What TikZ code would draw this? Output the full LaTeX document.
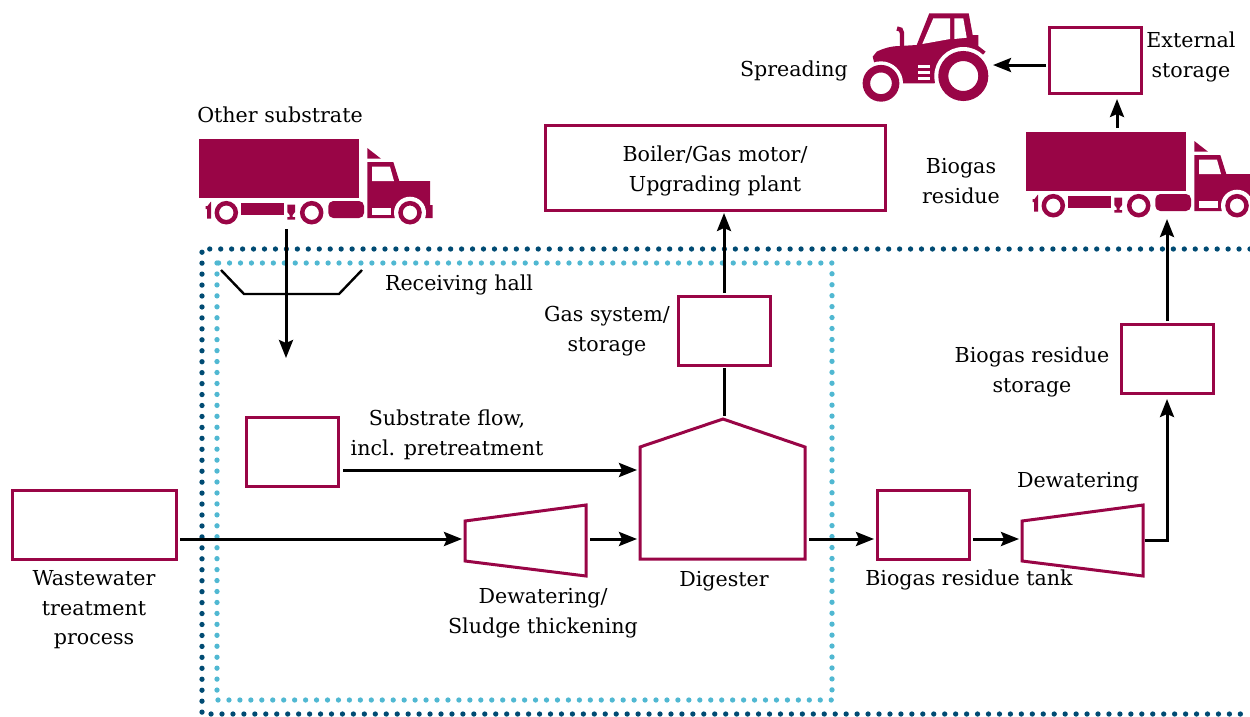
\documentclass[tikz,border=0pt]{standalone}
\usepackage{fontspec}
\setmainfont{DejaVu Serif}
\usetikzlibrary{arrows.meta,positioning}
\definecolor{plum}{HTML}{990546}
\definecolor{darkdots}{HTML}{004B73}
\definecolor{lightdots}{HTML}{50B8D2}

\tikzset{
	unit/.style = {draw=plum, line width=3pt, fill=white, inner sep=0pt, outer sep=0pt, anchor=north west},
	lbl/.style = {inner sep=0pt, align=center, font=\fontsize{20.6}{29.5}\selectfont},
	flow/.style = {line width=3pt, shorten >=3pt, -{Stealth[length=18pt,width=14pt,inset=3pt]}},
	pipe/.style = {line width=3pt},
	press/.style = {draw=plum, line width=3pt, fill=white},
	truck/.pic = {
		\fill[plum] (199,139) rectangle (359,198);
		\fill[plum] (367.3,148) -- (381,158.7) -- (367.3,158.7) -- cycle;
		\fill[plum] (367.3,162) -- (393.3,162) -- (399.3,181) -- (430,181) -- (430,205) -- (432.7,205)
			-- (432.7,218) -- (367.3,218) -- cycle;
		\fill[white] (372,166.7) -- (390,166.7) -- (394,181) -- (372,181) -- cycle;
		\fill[white] (372,207.7) rectangle (391,215);
		\fill[white] (410,212.7) circle (16) ;
		\fill[white] (396,218) rectangle (425,226);
		\draw[plum, line width=4.5pt] (410,212.7) circle (9.5);
		\draw[plum, line width=4.5pt] (311.7,212.7) circle (9.5);
		\draw[plum, line width=4.5pt] (226.3,212.7) circle (9.5);
		\fill[plum, rounded corners=5pt] (328.3,201) rectangle (364,218);
		\fill[plum] (241,203) rectangle (284,215);
		\fill[plum] (287.3,204.7) -- (295,204.7) -- (295,212) -- (292.7,215) -- (292.7,217) -- (295,217)
			-- (295,219.5) -- (287.3,219.5) -- (287.3,217) -- (289.7,217) -- (289.7,215) -- (287.3,212) -- cycle;
		\fill[plum] (205.7,206) -- (207.5,206) -- (211,201.5) -- (211,218.5) -- (207,218.5) -- (207,209) -- (205.7,209) -- cycle;
	},
}

\begin{document}
\begin{tikzpicture}[x=1pt, y=-1pt]
	\useasboundingbox (0,0) rectangle (1250,716);

	% dotted borders
	\draw[darkdots, line width=5.3pt, line cap=round, dash pattern=on 0pt off 10.95pt]
		(1250,249) -- (202,249) -- (202,714) -- (1250,714);
	\draw[lightdots, line width=5.3pt, line cap=round, dash pattern=on 0pt off 10.95pt]
		(217,263) rectangle (832,700);

	% trucks
	\pic (truckA) at (0,0) {truck};
	\begin{scope}
		\clip (0,0) rectangle (1250,716);
		\pic (truckB) at (827,-7) {truck};
	\end{scope}

	% tractor
	\fill[plum] (872.7,56.7) -- (876.7,51.7) .. controls (884,48) and (892,46) .. (900,46)
		-- (916.7,45) -- (929.3,13.3) -- (968.7,13.3) -- (972.7,35) -- (978.3,35) -- (978.3,46)
		-- (985.7,51.7) -- (983.3,54.3) -- (963,76) -- (934,83.3) -- (903.3,83.3) -- (881,83)
		-- (874,62) -- cycle;
	\draw[plum, line width=4.4pt] (902,46) -- (902,33) .. controls (902,30) and (900,28.5) .. (897,28.5);
	\fill[white] (922.3,44) -- (933.3,18.3) -- (950,18.3) -- (950,39) -- cycle;
	\fill[white] (954.3,18.3) -- (963.3,18.3) -- (966.7,37.7) -- (954.3,39) -- cycle;
	\fill[white] (963.3,76) circle (29);
	\fill[white] (881,83.3) circle (22);
	\fill[white] (918.3,65) rectangle (930,68);
	\fill[white] (918.3,71) rectangle (930,74);
	\fill[white] (918.3,77) rectangle (930,80);
	\draw[plum, line width=10pt] (963.3,76) circle (20);
	\draw[plum, line width=7.5pt] (881,83.3) circle (14.6);

	% units
	\node[unit, minimum width=164pt, minimum height=69pt] (wwtp) at (12,490) {};
	\node[unit, minimum width=92pt, minimum height=69pt] (premix) at (246,417) {};
	\node[unit, minimum width=340pt, minimum height=85pt] (boiler) at (545,125) {};
	\node[unit, minimum width=92pt, minimum height=69pt] (gas) at (678,296) {};
	\node[unit, minimum width=92pt, minimum height=69pt] (tank) at (877,490) {};
	\node[unit, minimum width=92pt, minimum height=69pt] (residue) at (1121,324) {};
	\node[unit, minimum width=92pt, minimum height=66pt] (external) at (1049,27) {};

	% dewatering units and digester
	\draw[press] (465,521) -- (586,505) -- (586,576) -- (465,561) -- cycle;
	\draw[press] (1022,521) -- (1143,505) -- (1143,576) -- (1022,561) -- cycle;
	\draw[press] (640,447) -- (723,419) -- (805,447) -- (805,559) -- (640,559) -- cycle;
	\coordinate (press1in) at (465,539);
	\coordinate (press1out) at (590,539);
	\coordinate (press2in) at (1022,539);
	\coordinate (press2out) at (1145,540);
	\coordinate (digtop) at (723,416);
	\coordinate (digin1) at (640,470);
	\coordinate (digin2) at (640,539);
	\coordinate (digout) at (809,539);

	% receiving hall
	\draw[line width=2.4pt] (221,270) -- (244,294) -- (339,294) -- (362,270);

	% connectors
	\coordinate (truckAout) at (286,229);
	\coordinate (hallend) at (286,358);
	\coordinate (truckBin) at (1167,219);
	\coordinate (tractorin) at (993,65);
	\coordinate (truckBtop) at (1117,128);
	\coordinate (premixout) at (343,470);
	\coordinate (tankout) at (973,539);
	\draw[flow, shorten >=0pt] (truckAout) -- (hallend);
	\draw[flow] ([xshift=4pt]wwtp.east |- press1in) -- (press1in);
	\draw[flow] (premixout) -- (digin1);
	\draw[flow] (press1out) -- (digin2);
	\draw[flow] (digout) -- (tank.west |- digout);
	\draw[flow] (tankout) -- (press2in);
	\draw[flow, shorten >=6pt] (press2out) -| (residue.south);
	\draw[flow, shorten >=0pt] ([yshift=3pt]residue.north) -- (truckBin);
	\draw[flow] ([yshift=3pt]gas.north) -- (boiler.south -| gas.north);
	\draw[pipe] ([yshift=-3pt]gas.south) -- (gas.south |- digtop);
	\draw[flow, shorten >=6pt] (truckBtop) -- (external.south -| truckBtop);
	\draw[flow, shorten >=0pt] ([xshift=-3pt]external.west |- tractorin) -- (tractorin);

	% labels
	\node[lbl] (lblother) at (280,115) {Other substrate};
	\node[lbl] (lblhall) at (459,285) {Receiving hall};
	\node[lbl] (lblspread) at (794,71) {Spreading};
	\node[lbl] (lblext) at (1191,57) {External\\storage};
	\node[lbl] (lblboiler) at (715,171) {Boiler/Gas motor/\\Upgrading plant};
	\node[lbl] (lblres) at (961,181) {Biogas\\residue};
	\node[lbl] (lblgas) at (607,331) {Gas system/\\storage};
	\node[lbl] (lblstore) at (1032,372) {Biogas residue\\storage};
	\node[lbl] (lblflow) at (447,435) {Substrate flow,\\incl. pretreatment};
	\node[lbl] (lbldew) at (1078,482) {Dewatering};
	\node[lbl] (lbldig) at (724,581) {Digester};
	\node[lbl] (lbltank) at (969,580) {Biogas residue tank};
	\node[lbl] (lblsludge) at (543,613) {Dewatering/\\Sludge thickening};
	\node[lbl] (lblww) at (94,610) {Wastewater\\treatment\\process};
\end{tikzpicture}
\end{document}
